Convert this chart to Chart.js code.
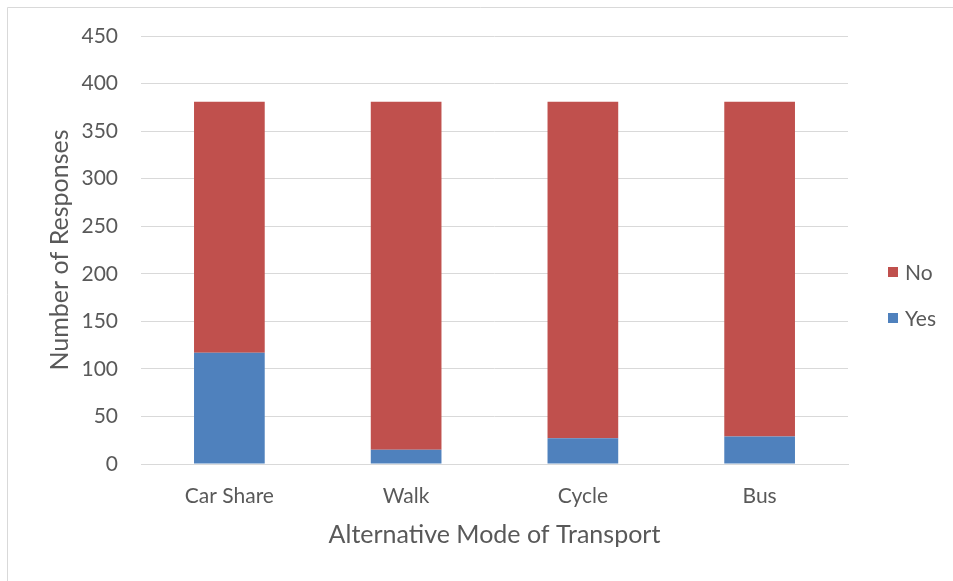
<!DOCTYPE html>
<html>
<head>
<meta charset="utf-8">
<script src="https://cdn.jsdelivr.net/npm/chart.js@4/dist/chart.umd.min.js"></script>
<style>
  html, body { margin: 0; padding: 0; background: #fff; }
  #wrap { position: relative; width: 953px; height: 581px; }
  canvas { display: block; }
</style>
</head>
<body>
<div id="wrap"><canvas id="c" width="953" height="581"></canvas></div>
<script>
const categories = ["Car Share", "Walk", "Cycle", "Bus"];
const yesValues = [117, 15, 27, 29];
const noValues = [264, 366, 354, 352];
const yTicks = [0, 50, 100, 150, 200, 250, 300, 350, 400, 450];

const FONT = "Lato, 'Open Sans', sans-serif";
const TEXT = "#595959";

const framePlugin = {
  id: 'frame',
  beforeDraw(chart) {
    const ctx = chart.ctx;
    ctx.save();
    ctx.fillStyle = '#fff';
    ctx.fillRect(0, 0, chart.width, chart.height);
    ctx.strokeStyle = '#d9d9d9';
    ctx.lineWidth = 1;
    ctx.beginPath();
    ctx.moveTo(7.5, chart.height);
    ctx.lineTo(7.5, 7.5);
    ctx.lineTo(chart.width, 7.5);
    ctx.stroke();
    ctx.restore();
  }
};

const legendPlugin = {
  id: 'customLegend',
  afterDraw(chart) {
    const ctx = chart.ctx;
    ctx.save();
    ctx.font = "21px " + FONT;
    ctx.textBaseline = 'middle';
    const items = chart.data.datasets.slice().reverse();
    const ys = [272, 318];
    items.forEach((ds, i) => {
      ctx.fillStyle = ds.backgroundColor;
      ctx.fillRect(888, ys[i] - 5, 10, 10);
      ctx.fillStyle = TEXT;
      ctx.fillText(ds.label, 905, ys[i] + 1);
    });
    ctx.restore();
  }
};

new Chart(document.getElementById('c'), {
  type: 'bar',
  data: {
    labels: categories,
    datasets: [
      { label: 'Yes', data: yesValues, backgroundColor: '#4F81BD', barPercentage: 0.4, categoryPercentage: 1.0 },
      { label: 'No', data: noValues, backgroundColor: '#C0504D', barPercentage: 0.4, categoryPercentage: 1.0 }
    ]
  },
  options: {
    responsive: false,
    animation: false,
    devicePixelRatio: 1,
    layout: { padding: { left: 0, right: 105, top: 36, bottom: 0 } },
    plugins: {
      legend: { display: false },
      tooltip: { enabled: false },
      title: { display: false }
    },
    scales: {
      x: {
        stacked: true,
        grid: { display: false, drawTicks: false },
        border: { display: true, color: '#d9d9d9', width: 1 },
        ticks: { color: TEXT, font: { family: FONT, size: 21 }, padding: 20 },
        title: { display: true, text: 'Alternative Mode of Transport', color: TEXT, font: { family: FONT, size: 25 }, padding: { top: 0, bottom: 31 } },
        afterFit(scale) { scale.height = 581 - 464; }
      },
      y: {
        stacked: true,
        min: 0, max: 450,
        afterBuildTicks(scale) { scale.ticks = yTicks.map(v => ({ value: v })); },
        grid: { color: '#d9d9d9', drawTicks: false },
        border: { display: false },
        ticks: { color: TEXT, font: { family: FONT, size: 21 }, padding: 23 },
        title: { display: true, text: 'Number of Responses', color: TEXT, font: { family: FONT, size: 25 }, padding: { top: 45, bottom: 0 } },
        afterFit(scale) { scale.width = 141; }
      }
    }
  },
  plugins: [framePlugin, legendPlugin]
});
</script>
</body>
</html>
